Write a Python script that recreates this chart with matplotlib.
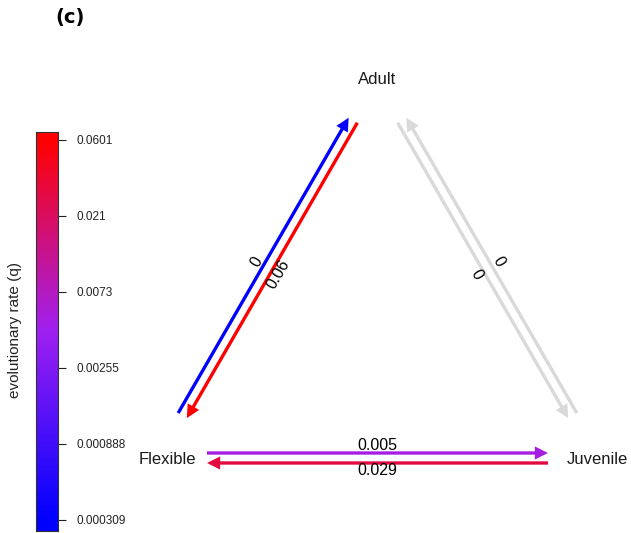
import numpy as np
import matplotlib
matplotlib.use("Agg")
import matplotlib.pyplot as plt
from matplotlib.colors import LinearSegmentedColormap, LogNorm
from matplotlib.patches import FancyArrowPatch
from matplotlib.ticker import NullLocator

# transition rates between life-stage states
STATES = ["Adult", "Flexible", "Juvenile"]
FROM_STATE = ["Flexible", "Adult", "Adult", "Juvenile", "Flexible", "Juvenile"]
TO_STATE = ["Adult", "Flexible", "Juvenile", "Adult", "Juvenile", "Flexible"]
RATES = [0.0, 0.06, 0.0, 0.0, 0.005, 0.029]
RATE_LABELS = ["0", "0.06", "0", "0", "0.005", "0.029"]
ESTIMATED = [True, True, False, False, True, True]

RATE_MIN, RATE_MAX = 0.000309, 0.0601
CBAR_TICKLABELS = ["0.000309", "0.000888", "0.00255", "0.0073", "0.021", "0.0601"]

W, H = 631, 533
FONT = "Liberation Sans"

cmap = LinearSegmentedColormap.from_list("rate", ["#0000FF", "#A020F0", "#FF0000"])
norm = LogNorm(vmin=RATE_MIN, vmax=RATE_MAX, clip=True)

fig = plt.figure(figsize=(W / 100, H / 100), dpi=100)
ax = fig.add_axes([0, 0, 1, 1])
ax.set_xlim(0, W)
ax.set_ylim(H, 0)
ax.axis("off")

# equilateral triangle layout (pixel space)
side = 439.0
x0, y0 = 158.0, 458.0
pos = {
    "Flexible": np.array([x0, y0]),
    "Juvenile": np.array([x0 + side, y0]),
    "Adult": np.array([x0 + side / 2, y0 - side * np.sqrt(3) / 2]),
}
label_shift = {"Flexible": (9, 2), "Juvenile": (0, 2), "Adult": (0, 2)}
for s in STATES:
    dx, dy = label_shift[s]
    ax.text(pos[s][0] + dx, pos[s][1] + dy, s, ha="center", va="center",
            fontsize=12, family=FONT, color="#1a1a1a")

shrink = 49.0
gap = 5.0
lab_off = 12.5
# which side of the edge each arrow sits on
side_sign = {("Flexible", "Adult"): 1, ("Adult", "Flexible"): 1,
             ("Adult", "Juvenile"): -1, ("Juvenile", "Adult"): -1,
             ("Flexible", "Juvenile"): 1, ("Juvenile", "Flexible"): 1}

for a, b, q, lab, est in zip(FROM_STATE, TO_STATE, RATES, RATE_LABELS, ESTIMATED):
    p, r = pos[a], pos[b]
    d = (r - p) / np.linalg.norm(r - p)
    n = np.array([d[1], -d[0]]) * side_sign[(a, b)]
    start = p + d * shrink + n * gap
    end = r - d * shrink + n * gap
    color = cmap(norm(max(q, RATE_MIN))) if est else "#d9d9d9"
    arr = FancyArrowPatch(start, end, arrowstyle="-|>,head_length=0.28,head_width=0.14",
                          mutation_scale=20, color=color, lw=2.4,
                          shrinkA=0, shrinkB=0, joinstyle="miter", capstyle="butt")
    ax.add_patch(arr)
    mid = (p + r) / 2 + n * lab_off
    ang = np.degrees(np.arctan2(-d[1], d[0]))
    if ang > 90:
        ang -= 180
    elif ang <= -90:
        ang += 180
    ax.text(mid[0], mid[1], lab, rotation=ang, rotation_mode="anchor",
            ha="center", va="center", fontsize=11.5, family=FONT, color="black")

fig.text(55 / W, 1 - 18 / H, "(c)", fontsize=14, fontweight="bold",
         family="DejaVu Sans", ha="left", va="center")

# colour bar for the rate scale
bar_top, bar_bot = 132, 531
tick_top, tick_bot = 140, 520
lpp = (np.log(RATE_MAX) - np.log(RATE_MIN)) / (tick_bot - tick_top)
y_hi = RATE_MAX * np.exp((tick_top - bar_top) * lpp)
y_lo = RATE_MIN / np.exp((bar_bot - tick_bot) * lpp)

cax = fig.add_axes([36 / W, 1 - bar_bot / H, 22 / W, (bar_bot - bar_top) / H])
edges = np.geomspace(y_lo, y_hi, 400)
centers = np.sqrt(edges[:-1] * edges[1:])
cax.pcolormesh([0, 1], edges, centers[:, None], cmap=cmap, norm=norm, shading="flat")
cax.set_yscale("log")
cax.set_ylim(y_lo, y_hi)
cax.set_xlim(0, 1)
cax.set_xticks([])
cax.yaxis.set_minor_locator(NullLocator())
cax.yaxis.tick_right()
cax.set_yticks([float(t) for t in CBAR_TICKLABELS])
cax.set_yticklabels(CBAR_TICKLABELS, family=FONT, fontsize=8.5)
cax.tick_params(axis="y", direction="out", length=6, width=0.8, pad=7, colors="#222222")
for sp in cax.spines.values():
    sp.set_color("#333333")
    sp.set_linewidth(0.8)

fig.text(15 / W, 1 - 330 / H, "evolutionary rate (q)", rotation=90,
         ha="center", va="center", fontsize=11, family=FONT, color="#222222")

fig.savefig("out.png", dpi=100)
